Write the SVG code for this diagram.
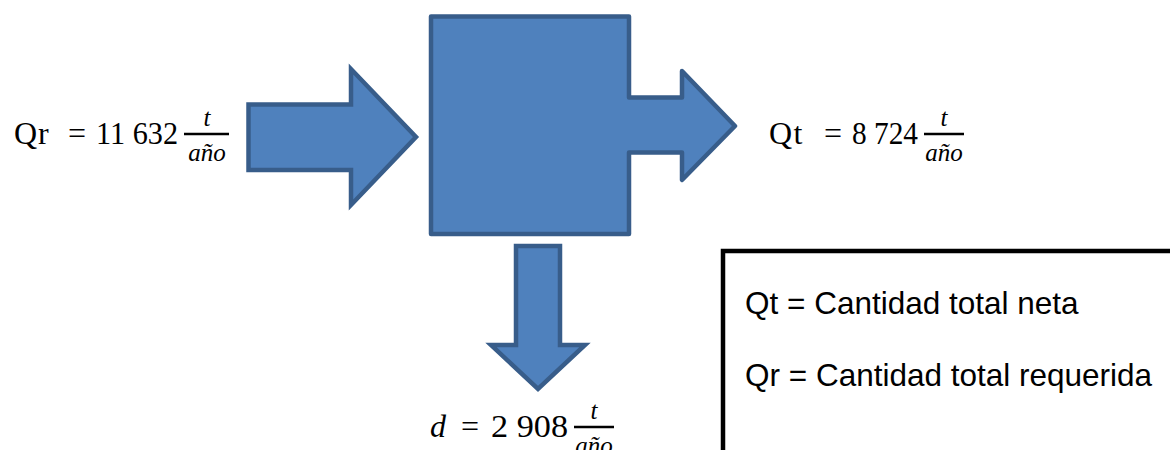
<svg xmlns="http://www.w3.org/2000/svg" width="1170" height="450" viewBox="0 0 1170 450">
<style>
.shape{fill:#4F81BD;stroke:#385D8A;stroke-width:4.5}
.m{font-family:"Liberation Serif","Times New Roman",serif;font-size:32px;fill:#000}
.f{font-family:"Liberation Serif","Times New Roman",serif;font-style:italic;font-size:25px;fill:#000;text-anchor:middle}
.bar{stroke:#000;stroke-width:2.5}
.leg{font-family:"Liberation Sans",Arial,sans-serif;font-size:31.5px;fill:#000}
</style>
<rect width="1170" height="450" fill="#fff"/>
<g id="connectors">
<polygon id="in-arrow" class="shape" stroke-linejoin="miter" points="248.5,104.5 351,104.5 351,69 416,137 351,205 351,170 248.5,170"/>
<polygon id="down-arrow" class="shape" stroke-linejoin="miter" points="516,246 560,246 560,345 585,345 538,389 491,345 516,345"/>
</g>
<g id="process">
<polygon class="shape" stroke-linejoin="round" points="431,16.5 629,16.5 629,97.5 682,97.5 682,71 735,126 682,180 682,152.5 629,152.5 629,234 431,234"/>
</g>
<g id="label-qr">
<text class="m" x="14" y="144" font-size="34" letter-spacing="1">Qr</text>
<text class="m" x="77" y="144" text-anchor="middle" font-size="36">=</text>
<text class="m" x="96" y="144" textLength="82" lengthAdjust="spacingAndGlyphs">11 632</text>
<line class="bar" x1="184" y1="134" x2="229" y2="134"/>
<text class="f" x="207" y="126">t</text>
<text class="f" x="207" y="161">año</text>
</g>
<g id="label-qt">
<text class="m" x="769" y="144" font-size="34" letter-spacing="1.5">Qt</text>
<text class="m" x="833" y="144" text-anchor="middle" font-size="36">=</text>
<text class="m" x="852" y="144" textLength="66" lengthAdjust="spacingAndGlyphs">8 724</text>
<line class="bar" x1="924" y1="134" x2="964" y2="134"/>
<text class="f" x="944" y="126">t</text>
<text class="f" x="944" y="161">año</text>
</g>
<g id="label-d">
<text class="m" x="430" y="437" font-style="italic">d</text>
<text class="m" x="470" y="437" text-anchor="middle" font-size="36">=</text>
<text class="m" x="491" y="437" textLength="77" lengthAdjust="spacingAndGlyphs">2 908</text>
<line class="bar" x1="574" y1="427" x2="614" y2="427"/>
<text class="f" x="594" y="419">t</text>
<text class="f" x="594" y="454">año</text>
</g>
<g id="legend">
<rect x="723" y="251" width="470" height="220" fill="none" stroke="#000" stroke-width="4.5"/>
<text class="leg" x="745" y="314">Qt = Cantidad total neta</text>
<text class="leg" x="745" y="386">Qr = Cantidad total requerida</text>
</g>
</svg>
